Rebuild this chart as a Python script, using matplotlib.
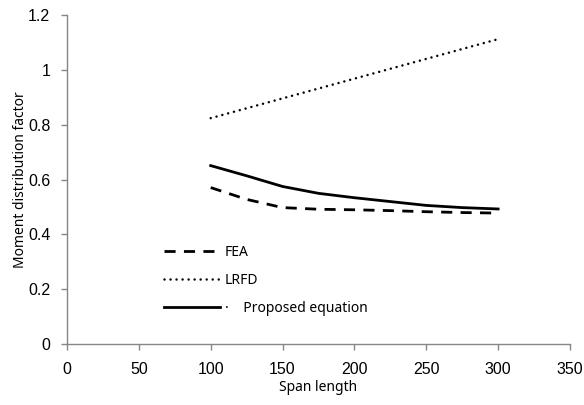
import matplotlib
matplotlib.use("Agg")
import matplotlib.pyplot as plt

# Span lengths and moment distribution factors
span = [100, 125, 150, 175, 200, 225, 250, 275, 300]
fea = [0.571, 0.528, 0.498, 0.492, 0.490, 0.487, 0.483, 0.480, 0.478]
lrfd = [0.824, 0.860, 0.896, 0.932, 0.968, 1.004, 1.040, 1.076, 1.112]
proposed = [0.651, 0.614, 0.575, 0.550, 0.534, 0.520, 0.506, 0.498, 0.493]

x_ticks = [0, 50, 100, 150, 200, 250, 300, 350]
y_ticks = [0, 0.2, 0.4, 0.6, 0.8, 1, 1.2]
y_tick_labels = ["0", "0.2", "0.4", "0.6", "0.8", "1", "1.2"]

label_font = "Noto Sans"
tick_font = "Liberation Sans"
axis_grey = "#868686"

fig = plt.figure(figsize=(5.84, 4.05), dpi=100)
ax = fig.add_axes([0.1147, 0.15, 0.8613, 0.813])

ax.plot(span, fea, color="black", linewidth=2.0, linestyle=(0, (4, 3)),
        label="FEA")
ax.plot(span, lrfd, color="black", linewidth=1.8, linestyle=(0, (0.01, 2.4)),
        dash_capstyle="round", label="LRFD")
ax.plot(span, proposed, color="black", linewidth=2.0, linestyle="-",
        label="\u00b7    Proposed equation")

ax.set_xlim(0, 350)
ax.set_ylim(0, 1.2)
ax.set_xticks(x_ticks)
ax.set_yticks(y_ticks)
ax.set_yticklabels(y_tick_labels)

for side in ["top", "right"]:
    ax.spines[side].set_visible(False)
for side in ["left", "bottom"]:
    ax.spines[side].set_color(axis_grey)
    ax.spines[side].set_linewidth(1.0)

ax.tick_params(axis="both", direction="out", length=4, width=1.0,
               color=axis_grey, labelsize=11.5)
ax.tick_params(axis="x", pad=9)
ax.tick_params(axis="y", pad=8)
for lbl in ax.get_xticklabels() + ax.get_yticklabels():
    lbl.set_fontfamily(tick_font)

ax.set_xlabel("Span length", fontsize=10, fontfamily=label_font, labelpad=2)
ax.set_ylabel("Moment distribution factor", fontsize=10,
              fontfamily=label_font, labelpad=0)

leg = ax.legend(loc="upper left", bbox_to_anchor=(151 / 584, 1 - 232 / 405),
                bbox_transform=fig.transFigure, frameon=False,
                handlelength=4.1, handletextpad=0.3, labelspacing=0.95,
                prop={"family": label_font, "size": 10})

fig.savefig("out.png", dpi=100)
